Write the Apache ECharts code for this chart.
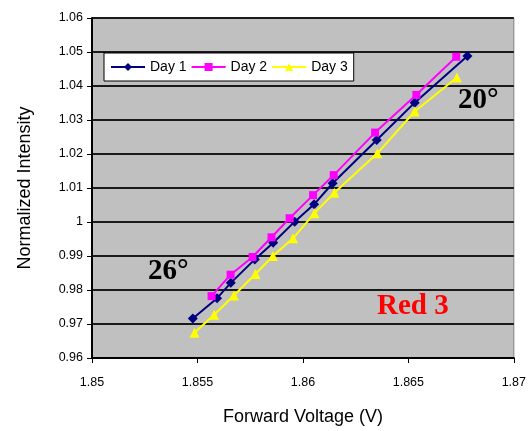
<!DOCTYPE html>
<html>
<head>
<meta charset="utf-8">
<script src="https://cdn.jsdelivr.net/npm/echarts@6/dist/echarts.min.js"></script>
<style>
  html, body { margin: 0; padding: 0; background: #fff; }
  #chart { width: 529px; height: 431px; }
</style>
</head>
<body>
<div id="chart"></div>
<script>
// values: [forward voltage, normalized intensity]
var day1 = [
  [1.85478, 0.9716], [1.85593, 0.9776], [1.85658, 0.9821], [1.85772, 0.9890],
  [1.85859, 0.9939], [1.85961, 1.0001], [1.86053, 1.0052], [1.86141, 1.0114],
  [1.86350, 1.0241], [1.86530, 1.0351], [1.86780, 1.0488]
];
var day2 = [
  [1.85567, 0.9782], [1.85657, 0.9845], [1.85761, 0.9897], [1.85851, 0.9955],
  [1.85937, 1.0011], [1.86048, 1.0079], [1.86146, 1.0138], [1.86342, 1.0263],
  [1.86538, 1.0374], [1.86727, 1.0486]
];
var day3 = [
  [1.85486, 0.9674], [1.85579, 0.9727], [1.85673, 0.9784], [1.85775, 0.9847],
  [1.85858, 0.9900], [1.85953, 0.9952], [1.86055, 1.0026], [1.86149, 1.0086],
  [1.86353, 1.0202], [1.86530, 1.0325], [1.86730, 1.0425]
];
var seriesNames = ['Day 1', 'Day 2', 'Day 3'];

var chart = echarts.init(document.getElementById('chart'));
var font = 'Liberation Sans, Arial, sans-serif';
var serif = 'Liberation Serif, Times New Roman, serif';

function line(name, data, color, symbol, size) {
  return {
    name: name,
    type: 'line',
    data: data,
    symbol: symbol,
    symbolSize: size,
    showSymbol: true,
    lineStyle: { color: color, width: 2 },
    itemStyle: { color: color },
    emphasis: { disabled: true },
    animation: false
  };
}

chart.setOption({
  backgroundColor: '#fff',
  grid: {
    left: 92, right: 13, top: 18, bottom: 70,
    show: true,
    backgroundColor: '#c0c0c0',
    borderColor: '#808080',
    borderWidth: 1
  },
  legend: {
    data: seriesNames,
    left: 104,
    top: 53,
    orient: 'horizontal',
    backgroundColor: '#fff',
    borderColor: '#000',
    borderWidth: 1,
    padding: [7, 6, 7, 6],
    itemGap: 4,
    itemWidth: 34,
    itemHeight: 10,
    textStyle: { fontFamily: font, fontSize: 14, color: '#000' }
  },
  xAxis: {
    type: 'value',
    min: 1.85, max: 1.87, interval: 0.005,
    name: 'Forward Voltage (V)',
    nameLocation: 'middle',
    nameGap: 50,
    nameTextStyle: { fontFamily: font, fontSize: 18, color: '#000' },
    axisLine: { show: true, onZero: false, lineStyle: { color: '#000', width: 2 } },
    axisTick: { show: true, length: 5, lineStyle: { color: '#000', width: 1 } },
    axisLabel: { fontFamily: font, fontSize: 12.5, color: '#000', margin: 18,
      formatter: function (v) { return String(+v.toFixed(3)); } },
    splitLine: { show: false }
  },
  yAxis: {
    type: 'value',
    min: 0.96, max: 1.06, interval: 0.01,
    name: 'Normalized Intensity',
    nameLocation: 'middle',
    nameGap: 58,
    nameTextStyle: { fontFamily: font, fontSize: 18, color: '#000' },
    axisLine: { show: true, onZero: false, lineStyle: { color: '#000', width: 2 } },
    axisTick: { show: true, length: 5, lineStyle: { color: '#000', width: 1 } },
    axisLabel: { fontFamily: font, fontSize: 12.5, color: '#000', margin: 9,
      formatter: function (v) { return String(+v.toFixed(2)); } },
    splitLine: { show: true, lineStyle: { color: '#1a1a1a', width: 2 } }
  },
  series: [
    line(seriesNames[0], day1, '#000080', 'diamond', 10),
    line(seriesNames[1], day2, '#ff00ff', 'rect', 8),
    line(seriesNames[2], day3, '#ffff00', 'triangle', 10)
  ],
  graphic: [
    { type: 'text', left: 148, top: 257,
      style: { text: '26°', fontFamily: serif, fontWeight: 'bold', fontSize: 29, fill: '#000' } },
    { type: 'text', left: 458, top: 86,
      style: { text: '20°', fontFamily: serif, fontWeight: 'bold', fontSize: 29, fill: '#000' } },
    { type: 'text', left: 377, top: 292,
      style: { text: 'Red 3', fontFamily: serif, fontWeight: 'bold', fontSize: 29, fill: '#ff0000' } }
  ]
});
</script>
</body>
</html>
